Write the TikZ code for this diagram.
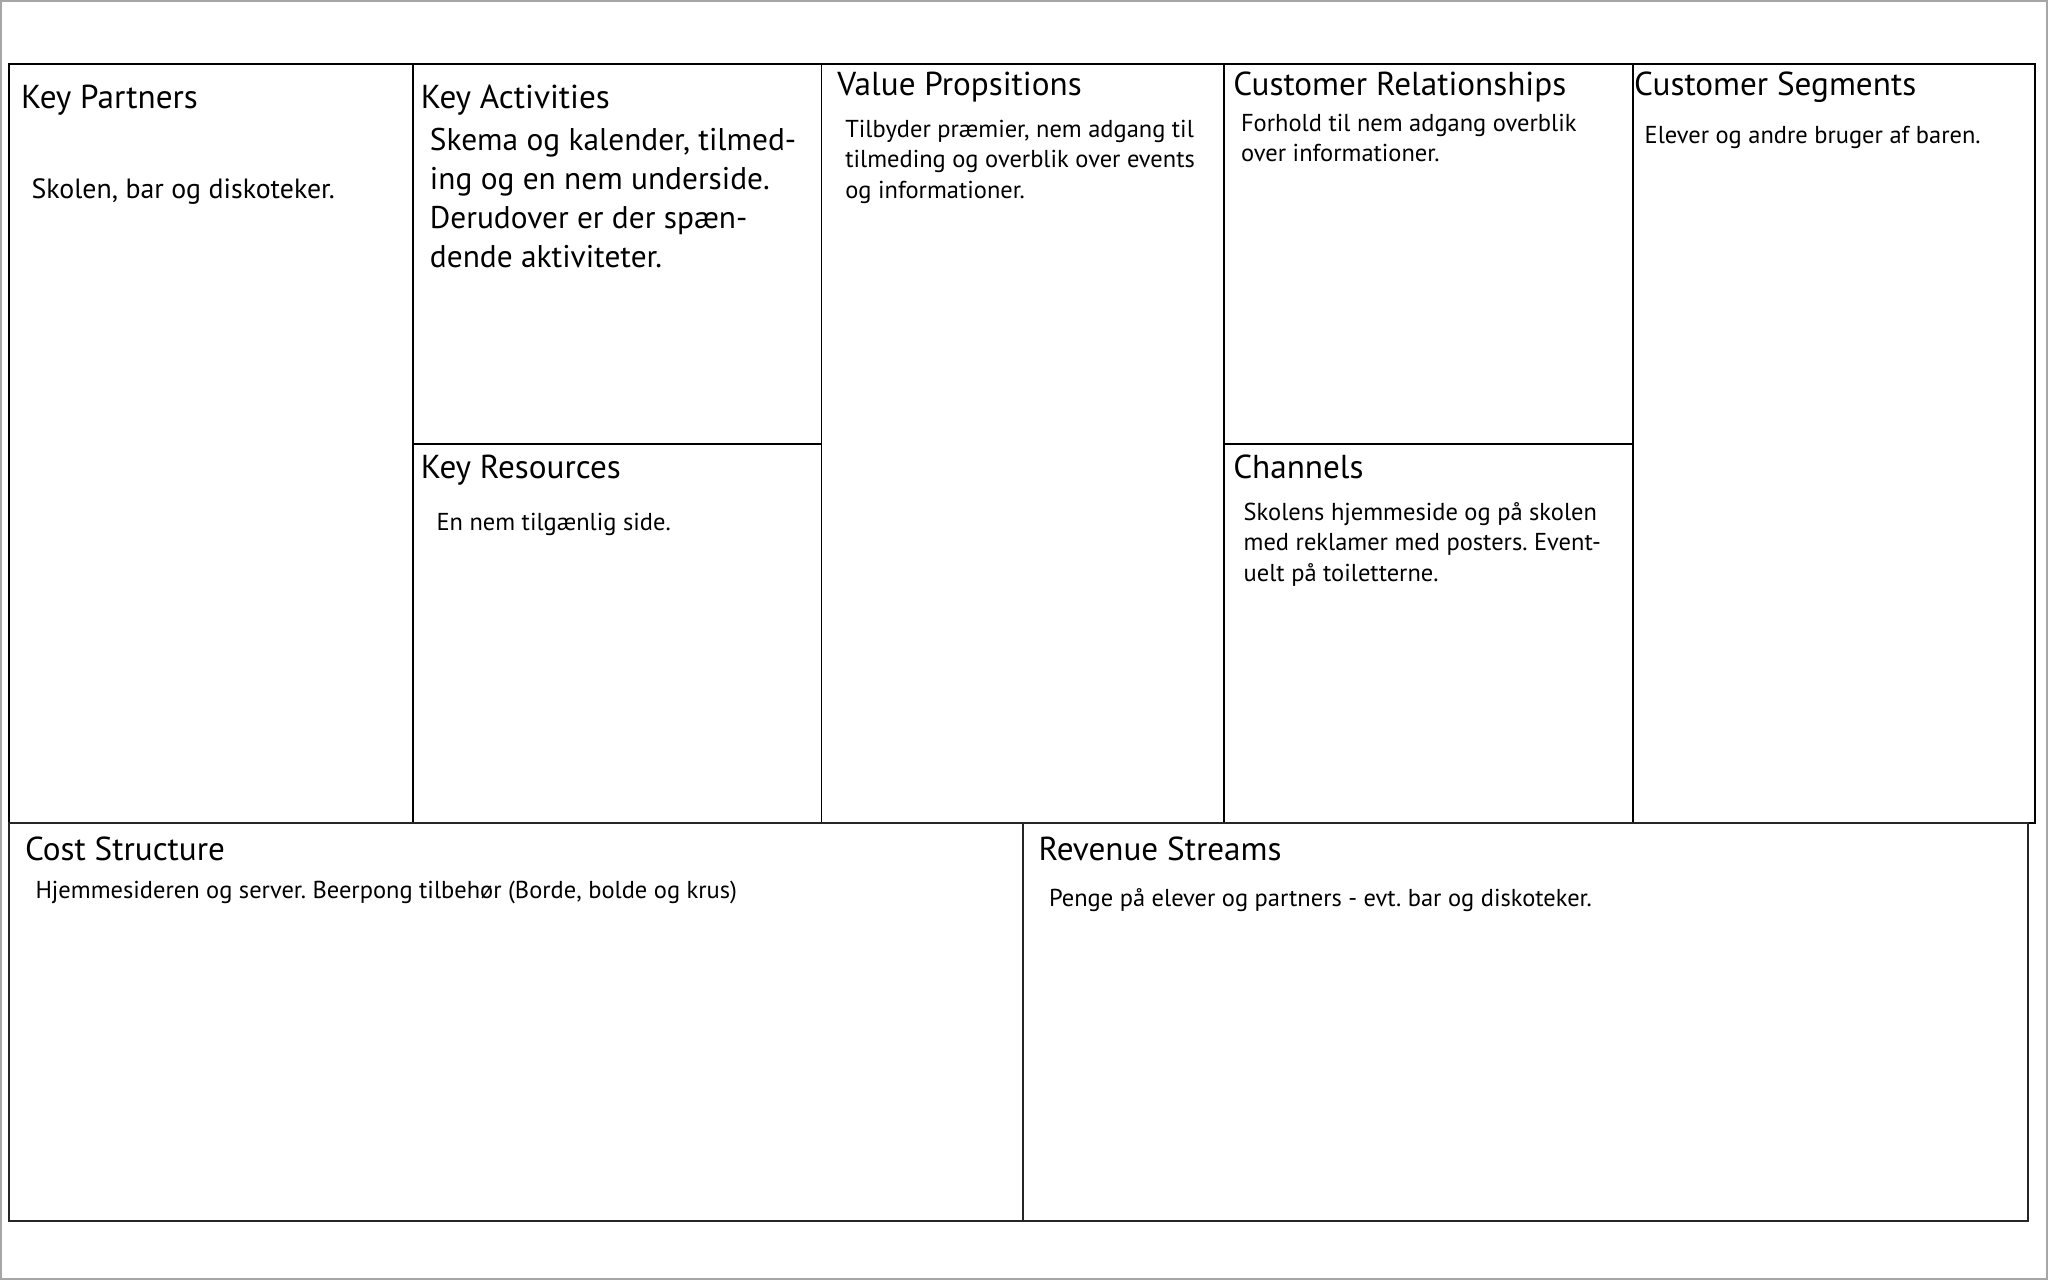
\documentclass[tikz,border=0pt]{standalone}
\usepackage{fontspec}
\setmainfont{PT Sans}
\frenchspacing
\begin{document}
\begin{tikzpicture}[x=1bp,y=-1bp,
  cell/.style={draw=black,line width=1.3bp},
  bot/.style={draw=black!85,line width=1.6bp},
  ttl/.style={anchor=base west,inner sep=0pt,font=\fontsize{25.5}{28}\selectfont},
  bdy/.style={anchor=base west,inner sep=0pt,align=left,font=\fontsize{18.8}{23.5}\selectfont},
  bdyM/.style={anchor=base west,inner sep=0pt,align=left,font=\fontsize{21.4}{26}\selectfont},
  bdyL/.style={anchor=base west,inner sep=0pt,align=left,font=\fontsize{24.1}{30}\selectfont}]
\useasboundingbox (0,0) rectangle (1568,980);
\draw[gray!70,line width=1.5bp] (0.75,0.75) rectangle (1567.25,979.25);
% top row cells
\draw[cell] (7,49) rectangle (316,630);
\draw[cell] (316,49) rectangle (629,340);
\draw[cell] (316,340) rectangle (629,630);
\draw[cell] (629,49) rectangle (937,630);
\draw[cell] (937,49) rectangle (1250,340);
\draw[cell] (937,340) rectangle (1250,630);
\draw[cell] (1250,49) rectangle (1558,630);
% bottom row
\draw[bot] (7,630) rectangle (783,935);
\draw[bot] (783,630) rectangle (1553,935);
% titles
\node[ttl] (kp) at (16,83) {Key Partners};
\node[ttl] (ka) at (322,83) {Key Activities};
\node[ttl] (vp) at (641,73) {Value Propsitions};
\node[ttl] (cr) at (944,73) {Customer Relationships};
\node[ttl] (cs) at (1251,73) {Customer Segments};
\node[ttl] (kr) at (322,366) {Key Resources};
\node[ttl] (ch) at (944,366) {Channels};
\node[ttl] (cost) at (19,659) {Cost Structure};
\node[ttl] (rev) at (795,659) {Revenue Streams};
% bodies (anchored at the baseline of the last line)
\node[bdyM] (kpb) at (24,152) {Skolen, bar og diskoteker.};
\node[bdyL] (kab) at (329,205) {Skema og kalender, tilmed-\\ing og en nem underside.\\Derudover er der spæn-\\dende aktiviteter.};
\node[bdy] (krb) at (334,406) {En nem tilgænlig side.};
\node[bdy] (vpb) at (647,152) {Tilbyder præmier, nem adgang til\\tilmeding og overblik over events\\og informationer.};
\node[bdy] (crb) at (950,124) {Forhold til nem adgang overblik\\over informationer.};
\node[bdy] (csb) at (1259,110) {Elever og andre bruger af baren.};
\node[bdy] (chb) at (952,445) {Skolens hjemmeside og på skolen\\med reklamer med posters. Event-\\uelt på toiletterne.};
\node[bdy] (costb) at (27,688) {Hjemmesideren og server. Beerpong tilbehør (Borde, bolde og krus)};
\node[bdy] (revb) at (803,694) {Penge på elever og partners - evt. bar og diskoteker.};
\end{tikzpicture}
\end{document}
